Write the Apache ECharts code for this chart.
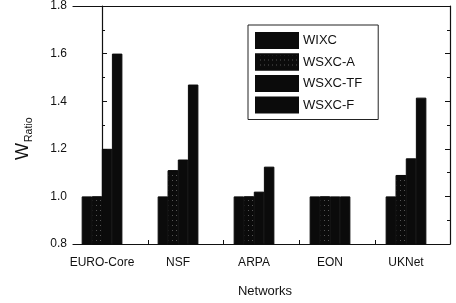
<!DOCTYPE html>
<html>
<head>
<meta charset="utf-8">
<script src="https://cdn.jsdelivr.net/npm/echarts@6/dist/echarts.min.js"></script>
<style>
  html, body { margin: 0; padding: 0; background: #fff; }
  #chart { width: 456px; height: 303px; }
</style>
</head>
<body>
<div id="chart"></div>
<script>
// networks on the x axis
const networks = ["EURO-Core", "NSF", "ARPA", "EON", "UKNet"];
// W_ratio per scheme, one value per network
const wixc = [1.0, 1.0, 1.0, 1.0, 1.0];
const wsxcA = [1.0, 1.11, 1.0, 1.0, 1.09];
const wsxcTF = [1.2, 1.155, 1.02, 1.0, 1.16];
const wsxcF = [1.6, 1.47, 1.125, 1.0, 1.415];
const yTicks = [0.8, 1.0, 1.2, 1.4, 1.6, 1.8];

const ink = "#111";
const barInk = "#0b0b0b";
const font = "Liberation Sans, Arial, sans-serif";

const chart = echarts.init(document.getElementById("chart"));

function bar(name, vals, decal) {
  return {
    name: name,
    type: "bar",
    xAxisIndex: 0,
    yAxisIndex: 0,
    barWidth: 10.5,
    barGap: "-4%",
    // border in the same colour closes the seams between bars
    itemStyle: { color: barInk, borderColor: barInk, borderWidth: 1, decal: decal },
    data: vals.map((v, i) => [i, v])
  };
}

// grey speckle for the WSXC-A bars, like the scanned print
const speckle = {
  symbol: "rect",
  symbolSize: 1,
  color: "rgba(255,255,255,0.3)",
  dashArrayX: [1, 3],
  dashArrayY: [1, 4],
  rotation: 0
};

chart.setOption({
  animation: false,
  textStyle: { fontFamily: font, color: ink },
  grid: { left: 73, right: 6, top: 6, bottom: 59 },
  legend: {
    orient: "vertical",
    left: 248,
    top: 25,
    padding: [7, 16, 6, 7],
    itemWidth: 42,
    itemHeight: 15,
    itemGap: 4.5,
    borderColor: "#222",
    borderWidth: 1,
    icon: "rect",
    textStyle: { fontSize: 13, color: ink, fontFamily: font },
    data: ["WIXC", "WSXC-A", "WSXC-TF", "WSXC-F"]
  },
  xAxis: [
    {
      type: "value",
      min: -0.382,
      max: 4.579,
      splitLine: { show: false },
      axisLine: { show: true, onZero: false, lineStyle: { color: ink, width: 1.2 } },
      axisTick: { inside: true, length: 4, customValues: [0.61, 1.6, 2.6, 3.6], lineStyle: { color: ink } },
      axisLabel: {
        customValues: [0, 1, 2, 3, 4],
        margin: 13,
        fontSize: 12,
        color: ink,
        formatter: v => networks[Math.round(v)]
      },
      name: "Networks",
      nameLocation: "middle",
      nameGap: 41,
      nameTextStyle: { fontSize: 13, color: ink, padding: [0, 0, 0, 7] }
    },
    {
      type: "category",
      position: "top",
      data: networks,
      axisLine: { show: true, lineStyle: { color: ink, width: 1.2 } },
      axisTick: { inside: true, length: 4, alignWithLabel: true, lineStyle: { color: ink } },
      axisLabel: { show: false }
    }
  ],
  yAxis: [
    {
      type: "value",
      min: 0.8,
      max: 1.8,
      interval: 0.2,
      splitLine: { show: false },
      axisLine: { show: true, lineStyle: { color: ink, width: 1.2 } },
      axisTick: { inside: true, length: 5, lineStyle: { color: ink } },
      minorTick: { show: true, splitNumber: 2, length: 3, lineStyle: { color: ink } },
      axisLabel: {
        fontSize: 12,
        color: ink,
        margin: 6,
        customValues: yTicks,
        formatter: v => v.toFixed(1)
      }
    },
    {
      type: "value",
      position: "right",
      min: 0.8,
      max: 1.8,
      interval: 0.2,
      splitLine: { show: false },
      axisLine: { show: true, lineStyle: { color: ink, width: 1.2 } },
      axisTick: { inside: true, length: 5, lineStyle: { color: ink } },
      minorTick: { show: true, splitNumber: 2, length: 3, lineStyle: { color: ink } },
      axisLabel: { show: false }
    }
  ],
  graphic: [
    {
      type: "text",
      x: 11,
      y: 160,
      rotation: Math.PI / 2,
      style: {
        text: "{w|W}{s|Ratio}",
        fill: ink,
        rich: {
          w: { fontSize: 18, fontFamily: font, fill: ink, lineHeight: 24 },
          s: { fontSize: 10.5, fontFamily: font, fill: ink, verticalAlign: "bottom", lineHeight: 14, padding: [10, 0, 0, 1] }
        }
      }
    }
  ],
  series: [
    bar("WIXC", wixc),
    bar("WSXC-A", wsxcA, speckle),
    bar("WSXC-TF", wsxcTF),
    bar("WSXC-F", wsxcF)
  ]
});
</script>
</body>
</html>
